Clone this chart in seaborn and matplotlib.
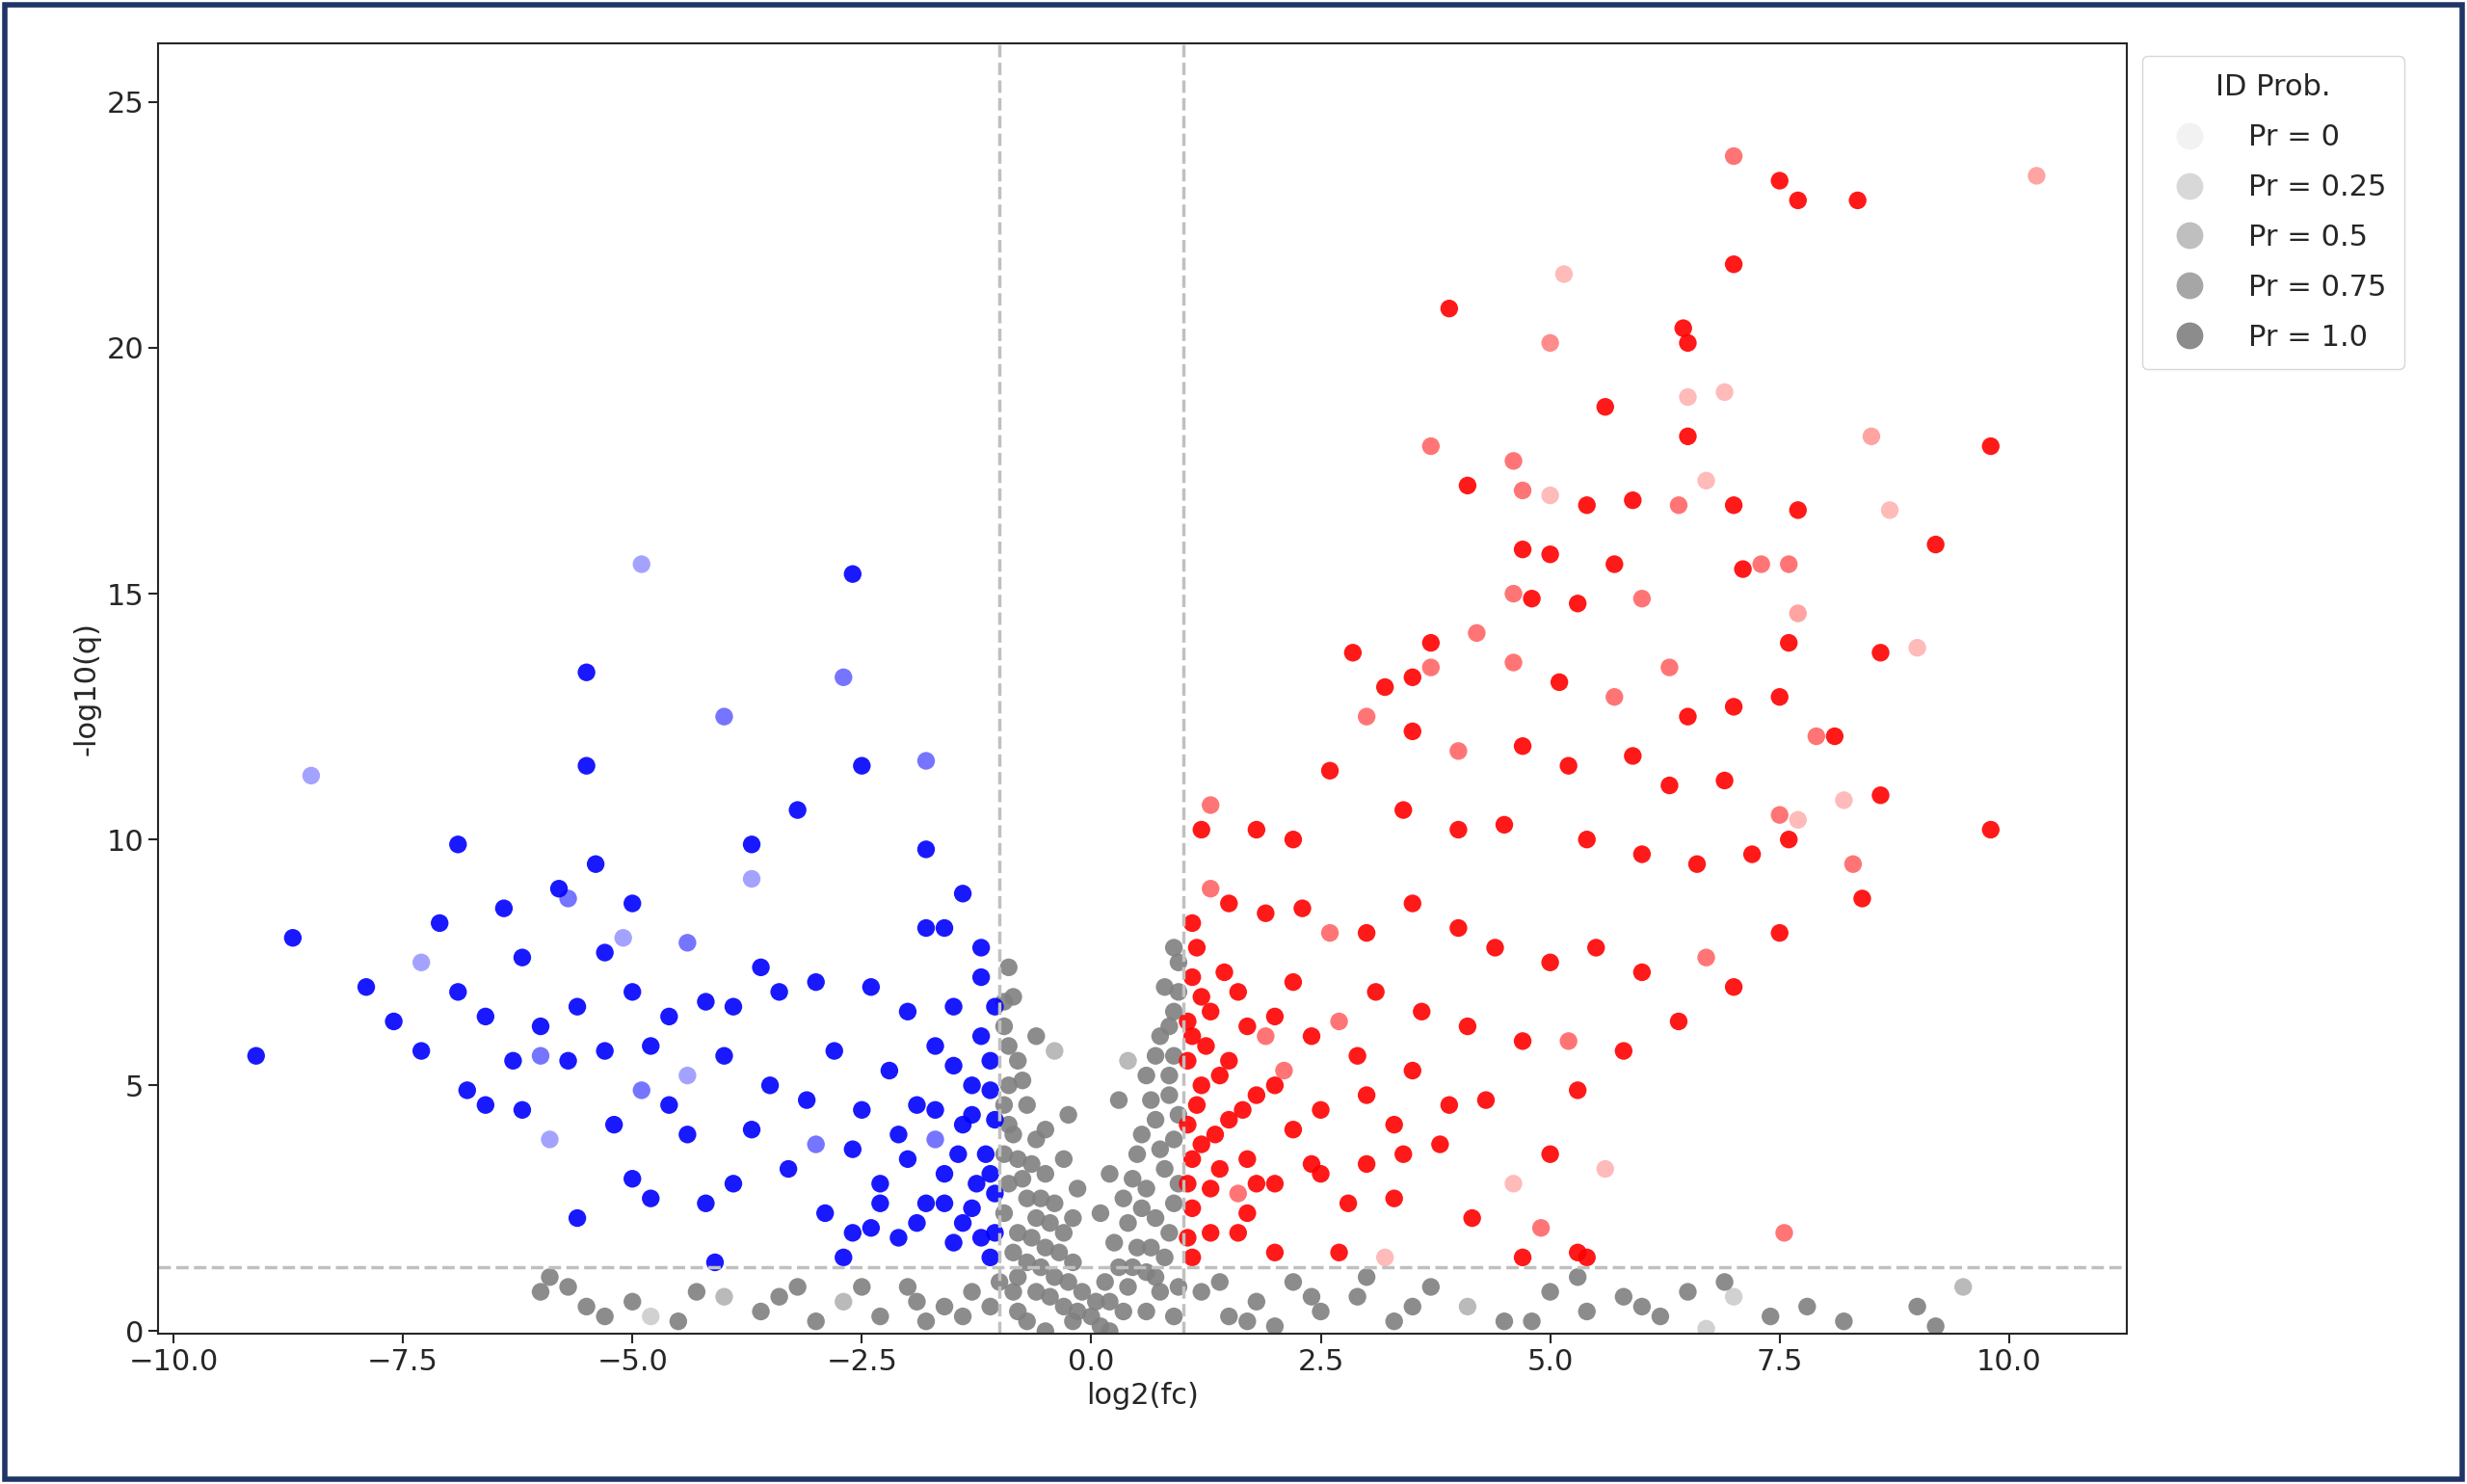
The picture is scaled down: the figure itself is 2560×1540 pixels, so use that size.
import matplotlib.pyplot as plt
import seaborn as sns
import pandas as pd
from matplotlib.lines import Line2D
from matplotlib.patches import Rectangle

# punkty: (log2fc, -log10q, ID prob)
red_pts = [(7.0,23.9,.6),(7.5,23.4,1),(7.7,23.0,1),(8.35,23.0,1),(10.3,23.5,.4),(7.0,21.7,1),(5.15,21.5,.3),(3.9,20.8,1),
    (6.45,20.4,1),(6.5,20.1,1),(5.0,20.1,.5),(6.5,19.0,.3),(6.9,19.1,.3),(5.6,18.8,1),(6.5,18.2,1),(8.5,18.2,.4),(9.8,18.0,1),
    (3.7,18.0,.6),(4.6,17.7,.6),(4.1,17.2,1),(4.7,17.1,.6),(5.0,17.0,.3),(5.4,16.8,1),(5.9,16.9,1),(6.4,16.8,.6),(6.7,17.3,.3),
    (7.0,16.8,1),(7.7,16.7,1),(8.7,16.7,.3),(9.2,16.0,1),(4.7,15.9,1),(5.0,15.8,1),(5.7,15.6,1),(7.1,15.5,1),(7.3,15.6,.6),
    (7.6,15.6,.6),(4.6,15.0,.6),(4.8,14.9,1),(5.3,14.8,1),(6.0,14.9,.6),(7.7,14.6,.4),(9.0,13.9,.3),(8.6,13.8,1),(7.6,14.0,1),
    (3.7,14.0,1),(2.85,13.8,1),(4.2,14.2,.6),(3.2,13.1,1),(3.5,13.3,1),(3.7,13.5,.6),(4.6,13.6,.6),(5.1,13.2,1),(5.7,12.9,.6),
    (6.3,13.5,.6),(6.5,12.5,1),(7.0,12.7,1),(7.5,12.9,1),(7.9,12.1,.6),(8.1,12.1,1),(3.0,12.5,.6),(3.5,12.2,1),(4.0,11.8,.6),
    (4.7,11.9,1),(5.2,11.5,1),(5.9,11.7,1),(6.3,11.1,1),(6.9,11.2,1),(7.5,10.5,.6),(7.7,10.4,.3),(8.2,10.8,.3),(8.6,10.9,1),
    (9.8,10.2,1),(1.2,10.2,1),(1.3,10.7,.6),(1.8,10.2,1),(2.2,10.0,1),(2.6,11.4,1),(3.4,10.6,1),(4.0,10.2,1),(4.5,10.3,1),
    (5.4,10.0,1),(6.0,9.7,1),(6.6,9.5,1),(7.2,9.7,1),(7.6,10.0,1),(8.3,9.5,.6),(8.4,8.8,1),(1.1,8.3,1),(1.3,9.0,.6),(1.5,8.7,1),
    (1.9,8.5,1),(2.3,8.6,1),(2.6,8.1,.6),(3.0,8.1,1),(3.5,8.7,1),(4.0,8.2,1),(4.4,7.8,1),(5.0,7.5,1),(5.5,7.8,1),(6.0,7.3,1),
    (6.7,7.6,.6),(7.0,7.0,1),(7.5,8.1,1),(1.1,7.2,1),(1.3,6.5,1),(1.6,6.9,1),(2.0,6.4,1),(2.4,6.0,1),(2.7,6.3,.6),(3.1,6.9,1),
    (3.6,6.5,1),(4.1,6.2,1),(4.7,5.9,1),(5.2,5.9,.6),(5.8,5.7,1),(6.4,6.3,1),(1.05,5.5,1),(1.2,5.0,1),(1.5,5.5,1),(1.8,4.8,1),
    (2.1,5.3,.6),(2.5,4.5,1),(3.0,4.8,1),(3.5,5.3,1),(3.9,4.6,1),(4.3,4.7,1),(5.3,4.9,1),(1.05,4.2,1),(1.2,3.8,1),(1.4,3.3,1),
    (1.7,3.5,1),(2.0,3.0,1),(2.4,3.4,1),(3.0,3.4,1),(3.4,3.6,1),(1.1,2.5,1),(1.3,2.0,1),(1.6,2.8,.6),(2.0,1.6,1),(2.7,1.6,1),
    (4.15,2.3,1),(5.0,3.6,1),(5.3,1.6,1),(5.4,1.5,1),(7.55,2.0,.6),(4.9,2.1,.6),(4.7,1.5,1),(3.2,1.5,.3),(1.1,1.5,1),
    (1.05,3.0,1),(1.05,6.3,1),(1.15,7.8,1),(1.25,5.8,1),(1.5,4.3,1),(1.7,2.4,1),(1.9,6.0,.6),(2.2,4.1,1),(2.8,2.6,1),
    (3.3,2.7,1),(3.8,3.8,1),(4.6,3.0,.3),(5.6,3.3,.3),
    (1.05,1.9,1),(1.1,3.5,1),(1.15,4.6,1),(1.1,6.0,1),(1.2,6.8,1),(1.3,2.9,1),(1.35,4.0,1),(1.4,5.2,1),(1.45,7.3,1),
    (1.6,2.0,1),(1.65,4.5,1),(1.7,6.2,1),(1.8,3.0,1),(2.0,5.0,1),(2.2,7.1,1),(2.5,3.2,1),(2.9,5.6,1),(3.3,4.2,1)]

blue_pts = [(-9.1,5.6,1),(-8.7,8.0,1),(-8.5,11.3,.4),(-7.9,7.0,1),(-7.6,6.3,1),(-7.3,7.5,.4),(-7.3,5.7,1),(-7.1,8.3,1),
    (-6.9,9.9,1),(-6.9,6.9,1),(-6.8,4.9,1),(-6.6,6.4,1),(-6.4,8.6,1),(-6.3,5.5,1),(-6.2,7.6,1),(-6.0,6.2,1),(-5.8,9.0,1),
    (-5.7,8.8,.6),(-5.6,6.6,1),(-5.5,13.4,1),(-5.5,11.5,1),(-5.4,9.5,1),(-5.3,7.7,1),(-5.1,8.0,.4),(-5.0,8.7,1),(-4.9,15.6,.4),
    (-5.0,6.9,1),(-4.8,5.8,1),(-4.6,6.4,1),(-4.4,7.9,.6),(-4.2,6.7,1),(-4.0,12.5,.6),(-3.9,6.6,1),(-3.7,9.2,.4),(-3.7,9.9,1),
    (-3.6,7.4,1),(-3.4,6.9,1),(-3.2,10.6,1),(-3.0,7.1,1),(-2.7,13.3,.6),(-2.6,15.4,1),(-2.5,11.5,1),(-2.4,7.0,1),(-1.8,11.6,.6),
    (-1.8,9.8,1),(-1.8,8.2,1),(-1.6,8.2,1),(-1.4,8.9,1),(-1.2,7.8,1),(-2.0,6.5,1),(-6.6,4.6,1),(-6.2,4.5,1),(-5.9,3.9,.4),
    (-5.7,5.5,1),(-5.6,2.3,1),(-5.3,5.7,1),(-5.2,4.2,1),(-5.0,3.1,1),(-4.8,2.7,1),(-4.6,4.6,1),(-4.4,4.0,1),(-4.2,2.6,1),
    (-4.0,5.6,1),(-3.9,3.0,1),(-3.7,4.1,1),(-3.5,5.0,1),(-3.3,3.3,1),(-3.1,4.7,1),(-2.9,2.4,1),(-2.8,5.7,1),(-2.6,3.7,1),
    (-2.5,4.5,1),(-2.3,3.0,1),(-2.2,5.3,1),(-2.1,1.9,1),(-2.0,3.5,1),(-1.9,4.6,1),(-1.8,2.6,1),(-1.7,5.8,1),(-1.6,3.2,1),
    (-1.5,1.8,1),(-1.4,4.2,1),(-1.3,2.5,1),(-1.2,6.0,1),(-1.15,3.6,1),(-1.1,1.5,1),(-1.1,4.9,1),(-1.05,2.8,1),(-1.3,5.0,1),
    (-1.5,6.6,1),(-2.4,2.1,1),(-2.7,1.5,1),(-4.1,1.4,1),(-4.4,5.2,.4),(-3.0,3.8,.6),(-1.7,3.9,.6),(-6.0,5.6,.6),(-4.9,4.9,.6),
    (-1.05,2.0,1),(-1.1,3.2,1),(-1.05,4.3,1),(-1.1,5.5,1),(-1.05,6.6,1),(-1.2,1.9,1),(-1.25,3.0,1),(-1.3,4.4,1),(-1.2,7.2,1),
    (-1.4,2.2,1),(-1.45,3.6,1),(-1.5,5.4,1),(-1.6,2.6,1),(-1.7,4.5,1),(-1.9,2.2,1),(-2.1,4.0,1),(-2.3,2.6,1),(-2.6,2.0,1)]

gray_pts = [(-0.9,7.4,1),(-0.85,6.8,1),(-0.95,6.2,1),(-0.8,5.5,1),(-0.9,5.0,1),(-0.7,4.6,1),(-0.9,4.2,1),(-0.6,3.9,1),
    (-0.8,3.5,1),(-0.5,3.2,1),(-0.9,3.0,1),(-0.7,2.7,1),(-0.4,2.6,1),(-0.6,2.3,1),(-0.8,2.0,1),(-0.3,2.0,1),(-0.5,1.7,1),
    (-0.7,1.4,1),(-0.2,1.4,1),(-0.4,1.1,1),(-0.6,0.8,1),(-0.1,0.8,1),(-0.3,0.5,1),(-0.8,0.4,1),(0.0,0.3,1),(0.2,0.6,1),
    (0.4,0.9,1),(0.3,1.3,1),(0.6,1.2,1),(0.5,1.7,1),(0.8,1.5,1),(0.4,2.2,1),(0.7,2.3,1),(0.9,2.6,1),(0.6,2.9,1),(0.8,3.3,1),
    (0.5,3.6,1),(0.9,3.9,1),(0.7,4.3,1),(0.85,4.8,1),(0.6,5.2,1),(0.9,5.6,1),(0.75,6.0,1),(0.9,6.5,1),(0.8,7.0,1),(0.95,7.5,1),
    (0.9,7.8,1),(0.3,4.7,1),(0.4,5.5,.6),(-0.4,5.7,.6),(0.1,0.1,1),(-0.2,0.2,1),(0.6,0.4,1),(0.95,0.9,1),(-1.0,1.0,1),
    (-1.3,0.8,1),(-1.6,0.5,1),(-2.0,0.9,1),(-2.3,0.3,1),(-2.7,0.6,.6),(-3.2,0.9,1),(-3.6,0.4,1),(-4.0,0.7,.6),(-4.5,0.2,1),
    (-5.0,0.6,1),(-5.3,0.3,1),(-5.7,0.9,1),(-5.9,1.1,1),(-4.8,0.3,.4),(-3.0,0.2,1),(-1.8,0.2,1),(1.2,0.8,1),(1.5,0.3,1),
    (1.8,0.6,1),(2.2,1.0,1),(2.5,0.4,1),(2.9,0.7,1),(3.3,0.2,1),(3.7,0.9,1),(4.1,0.5,.6),(4.5,0.2,1),(5.0,0.8,1),(5.4,0.4,1),
    (5.8,0.7,1),(6.2,0.3,1),(6.5,0.8,1),(6.9,1.0,1),(7.0,0.7,.4),(7.4,0.3,1),(7.8,0.5,1),(8.2,0.2,1),(9.0,0.5,1),(9.5,0.9,.6),
    (9.2,0.1,1),(6.7,0.05,.4),(5.3,1.1,1),(3.0,1.1,1),(2.0,0.1,1),(-6.0,0.8,1),(-0.5,0.0,1),(0.2,0.0,1),(-0.25,4.4,1),
    (0.2,3.2,1),(-0.15,2.9,1),(0.1,2.4,1),
    (-0.95,6.7,1),(-0.9,5.8,1),(-0.95,4.6,1),(-0.85,4.0,1),(-0.95,3.6,1),(-0.75,3.1,1),(-0.95,2.4,1),(-0.65,1.9,1),
    (-0.85,1.6,1),(-0.55,1.3,1),(-0.8,1.1,1),(-0.45,0.7,1),(-0.7,0.2,1),(-0.55,2.7,1),(-0.65,3.4,1),(-0.5,4.1,1),
    (-0.75,5.1,1),(-0.6,6.0,1),(-0.45,2.2,1),(-0.35,1.6,1),(-0.25,1.0,1),(-0.15,0.4,1),(0.05,0.6,1),(0.15,1.0,1),
    (0.25,1.8,1),(0.35,2.7,1),(0.45,3.1,1),(0.55,4.0,1),(0.65,4.7,1),(0.7,5.6,1),(0.85,6.2,1),(0.95,6.9,1),(0.85,5.2,1),
    (0.95,4.4,1),(0.75,3.7,1),(0.95,3.0,1),(0.85,2.0,1),(0.65,1.7,1),(0.45,1.3,1),(0.35,0.4,1),(0.75,0.8,1),(0.9,0.3,1),
    (0.55,2.5,1),(0.7,1.1,1),(-0.85,0.8,1),(-1.1,0.5,1),(-1.4,0.3,1),(-1.9,0.6,1),(-2.5,0.9,1),(-3.4,0.7,1),(-4.3,0.8,1),
    (-5.5,0.5,1),(1.4,1.0,1),(1.7,0.2,1),(2.4,0.7,1),(3.5,0.5,1),(4.8,0.2,1),(6.0,0.5,1),(-0.3,3.5,1),(-0.2,2.3,1)]

legend_labels = ["Pr = 0", "Pr = 0.25", "Pr = 0.5", "Pr = 0.75", "Pr = 1.0"]
legend_alphas = [0.1, 0.3, 0.5, 0.7, 0.9]

sns.set_style("ticks")
plt.rcParams['font.family'] = ['DejaVu Sans']

fig = plt.figure(figsize=(25.6, 15.4), dpi=100)
ax = fig.add_axes([0.064, 0.101, 0.798, 0.870])

for pts, color in [(gray_pts, "gray"), (blue_pts, "blue"), (red_pts, "red")]:
    df = pd.DataFrame(pts, columns=["x", "y", "p"])
    for p, grp in df.groupby("p"):
        sns.scatterplot(data=grp, x="x", y="y", color=color, alpha=0.9 * p, s=175,
                        edgecolor="none", ax=ax, legend=False)

for xv in [-1, 1]:
    ax.axvline(xv, color="#c0c0c0", linestyle="--", linewidth=2.5)
ax.axhline(1.3, color="#c0c0c0", linestyle="--", linewidth=2.5)

ax.set_xlim(-10.17, 11.28)
ax.set_ylim(-0.06, 26.2)
ax.set_xlabel("log2(fc)", fontsize=22)
ax.set_ylabel("-log10(q)", fontsize=22)
ax.tick_params(labelsize=22, length=7, width=1.5)
for sp in ax.spines.values():
    sp.set_linewidth(1.5)

handles = [Line2D([], [], marker="o", linestyle="", color="gray", alpha=a, markersize=20,
                  markeredgewidth=0) for a in legend_alphas]
ax.legend(handles, legend_labels, title="ID Prob.", loc="upper left", bbox_to_anchor=(1.008, 0.99),
          fontsize=22, title_fontsize=22, borderaxespad=0, labelspacing=0.75, handletextpad=1.0,
          borderpad=0.6)

fig.patches.append(Rectangle((0.002, 0.003), 0.996, 0.994, transform=fig.transFigure,
                             fill=False, edgecolor="#1f3566", linewidth=4))

fig.savefig("out.png", dpi=100)
